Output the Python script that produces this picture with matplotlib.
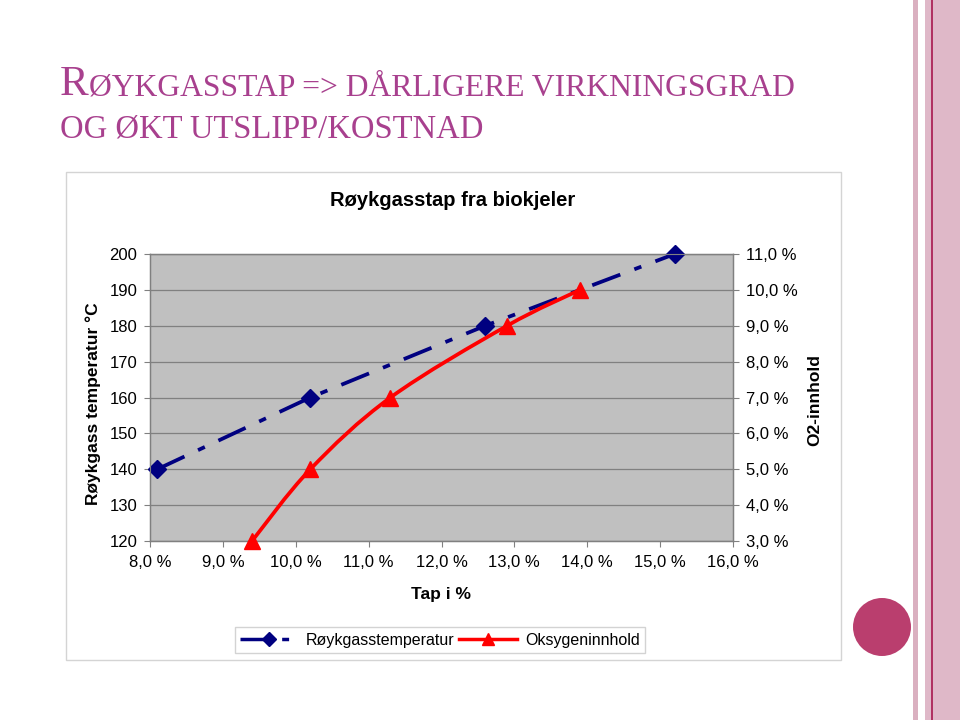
#
# Røykgasstap fra biokjeler - slide chart with two y axes
# left: flue gas temperature, right: O2 content, x: loss in %
#
import numpy as np
import matplotlib
matplotlib.use("Agg")
import matplotlib.pyplot as plt
from matplotlib.path import Path
from matplotlib.patches import PathPatch, Rectangle, Ellipse
from matplotlib.lines import Line2D
from matplotlib.text import Annotation
from matplotlib.ticker import FuncFormatter

plt.rcParams['font.family'] = ['Liberation Sans', 'DejaVu Sans']

# data
tap_temp = [8.1, 10.2, 12.6, 15.2]          # Tap i % (temperature series)
temp = [140, 160, 180, 200]                 # Røykgasstemperatur, °C
tap_o2 = [9.4, 10.2, 11.3, 12.9, 13.9]      # Tap i % (oxygen series)
o2 = [3.0, 5.0, 7.0, 9.0, 10.0]             # Oksygeninnhold, %

x_ticks = [8, 9, 10, 11, 12, 13, 14, 15, 16]
temp_ticks = [120, 130, 140, 150, 160, 170, 180, 190, 200]
o2_ticks = [3, 4, 5, 6, 7, 8, 9, 10, 11]

navy = '#000080'
red = '#FF0000'
pink = '#A8408E'

W, H = 960, 720
fig = plt.figure(figsize=(W / 100, H / 100), dpi=100)


def px(x, y):
    # pixel position (from top-left) -> figure fraction
    return x / W, 1 - y / H


# chart frame (behind the axes)
fig.add_artist(Rectangle(px(66, 660), 775 / W, 488 / H, transform=fig.transFigure,
                         facecolor='white', edgecolor='#D4D4D4', lw=1.0, zorder=-2))

# slide decorations on the right
fig.add_artist(Rectangle(px(913, 720), 5 / W, 1, transform=fig.transFigure,
                         facecolor='#DAB0C0', edgecolor='none', zorder=-2))
fig.add_artist(Rectangle(px(925, 720), 35 / W, 1, transform=fig.transFigure,
                         facecolor='#DFB8C8', edgecolor='none', zorder=-2))
fig.add_artist(Rectangle(px(931, 720), 1.5 / W, 1, transform=fig.transFigure,
                         facecolor='#B03262', edgecolor='none', zorder=-1))
fig.add_artist(Ellipse(px(882, 627), 58 / W, 58 / H, transform=fig.transFigure,
                       facecolor='#BA3E6E', edgecolor='none', zorder=-1))

# slide title in small caps
r_txt = fig.text(60 / W, 1 - 95 / H, 'R', family='Liberation Serif', fontsize=31,
                 color=pink, ha='left', va='baseline')
fig.add_artist(Annotation('ØYKGASSTAP => DÅRLIGERE VIRKNINGSGRAD', xy=(1, 1 - 95 / H),
                          xycoords=(r_txt, 'figure fraction'), family='Liberation Serif',
                          fontsize=22.8, color=pink, ha='left', va='baseline',
                          annotation_clip=False))
fig.text(60 / W, 1 - 138 / H, 'OG ØKT UTSLIPP/KOSTNAD', family='Liberation Serif',
         fontsize=23.5, color=pink, ha='left', va='baseline')

# plot area
ax = fig.add_axes([150 / W, 179 / H, 583 / W, 287 / H])
ax.set_facecolor('#C0C0C0')
ax.set_xlim(8, 16)
ax.set_ylim(120, 200)
ax.set_xticks(x_ticks)
ax.set_yticks(temp_ticks)
ax.xaxis.set_major_formatter(FuncFormatter(lambda v, p: f'{v:.1f} %'.replace('.', ',')))
ax.grid(axis='y', color='#808080', lw=0.9)
ax.set_axisbelow(True)
for s in ax.spines.values():
    s.set_color('#808080')
    s.set_linewidth(1.0)
ax.tick_params(axis='both', direction='out', length=4, width=0.8, color='#808080',
               labelsize=12, labelcolor='black')
ax.tick_params(axis='x', pad=6)
ax.tick_params(axis='y', pad=5)

ax.plot(tap_temp, temp, color=navy, lw=2.7, linestyle=(0, (8, 4, 2, 4)),
        marker='D', markersize=9.5, markerfacecolor=navy, markeredgecolor=navy,
        zorder=3, clip_on=False)

ax.set_xlabel('Tap i %', fontsize=12.5, fontweight='bold', va='center')
ax.xaxis.set_label_coords(0.499, -0.185)
ax.set_ylabel('Røykgass temperatur °C', fontsize=12.5, fontweight='bold', va='center')
ax.yaxis.set_label_coords(-0.098, 0.48)

# right axis: oxygen content
ax2 = ax.twinx()
ax2.set_ylim(3, 11)
ax2.set_yticks(o2_ticks)
ax2.yaxis.set_major_formatter(FuncFormatter(lambda v, p: f'{v:.1f} %'.replace('.', ',')))
for s in ax2.spines.values():
    s.set_color('#808080')
ax2.tick_params(axis='y', direction='out', length=4, width=0.8, color='#808080',
                labelsize=12, pad=5)


def smooth_path(xs, ys, sx, sy):
    # Bezier curve through the points (like Excel's smoothed line)
    pts = np.column_stack([np.array(xs) * sx, np.array(ys) * sy])
    n = len(pts)
    verts = [pts[0]]
    codes = [Path.MOVETO]
    for i in range(n - 1):
        p0 = pts[max(i - 1, 0)]
        p1 = pts[i]
        p2 = pts[i + 1]
        p3 = pts[min(i + 2, n - 1)]
        verts += [p1 + (p2 - p0) / 6, p2 - (p3 - p1) / 6, p2]
        codes += [Path.CURVE4] * 3
    verts = np.array(verts) / [sx, sy]
    return Path(verts, codes)


ax2.add_patch(PathPatch(smooth_path(tap_o2, o2, 583 / 8, 287 / 8), fill=False,
                        edgecolor=red, lw=2.7, zorder=3))
ax2.plot(tap_o2, o2, linestyle='none', marker='^', markersize=11,
         markerfacecolor=red, markeredgecolor=red, zorder=4, clip_on=False)

ax2.set_ylabel('O2-innhold', fontsize=12.5, fontweight='bold', va='center', rotation=90)
ax2.yaxis.set_label_coords(1.141, 0.49)

# chart title
fig.text(453 / W, 1 - 200 / H, 'Røykgasstap fra biokjeler', fontsize=14.5,
         fontweight='bold', ha='center', va='center')

# legend
h1 = Line2D([], [], color=navy, lw=2.5, linestyle=(0, (8, 4, 2, 4)), marker='D',
            markersize=7, markerfacecolor=navy, markeredgecolor=navy)
h2 = Line2D([], [], color=red, lw=2.5, marker='^', markersize=9,
            markerfacecolor=red, markeredgecolor=red)
leg = fig.legend([h1, h2], ['Røykgasstemperatur', 'Oksygeninnhold'], ncol=2,
                 loc='center', bbox_to_anchor=(440 / W, 1 - 640 / H), fontsize=11.5,
                 frameon=True, fancybox=False, handlelength=3.6, handletextpad=0.5,
                 columnspacing=0.3, borderpad=0.35)
leg.get_frame().set_edgecolor('#C8C8C8')
leg.get_frame().set_linewidth(1.0)

fig.savefig('out.png', dpi=100)
